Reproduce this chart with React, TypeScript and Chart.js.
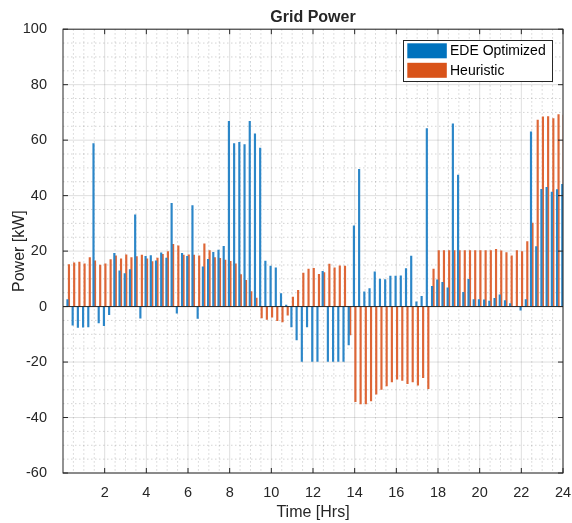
import React, { useEffect, useRef } from 'react';
import { Chart, registerables } from 'chart.js';

Chart.register(...registerables);

// Time of each 15-minute interval (hours)
const hours = [
  0.25, 0.5, 0.75, 1, 1.25, 1.5, 1.75, 2, 2.25, 2.5, 2.75, 3,
  3.25, 3.5, 3.75, 4, 4.25, 4.5, 4.75, 5, 5.25, 5.5, 5.75, 6,
  6.25, 6.5, 6.75, 7, 7.25, 7.5, 7.75, 8, 8.25, 8.5, 8.75, 9,
  9.25, 9.5, 9.75, 10, 10.25, 10.5, 10.75, 11, 11.25, 11.5, 11.75, 12,
  12.25, 12.5, 12.75, 13, 13.25, 13.5, 13.75, 14, 14.25, 14.5, 14.75, 15,
  15.25, 15.5, 15.75, 16, 16.25, 16.5, 16.75, 17, 17.25, 17.5, 17.75, 18,
  18.25, 18.5, 18.75, 19, 19.25, 19.5, 19.75, 20, 20.25, 20.5, 20.75, 21,
  21.25, 21.5, 21.75, 22, 22.25, 22.5, 22.75, 23, 23.25, 23.5, 23.75, 24,
];

// Grid power, EDE optimized schedule (kW)
const edeOptimized = [
  2.5, -6.7, -7.5, -7.4, -7.3, 58.8, -5.9, -6.9, -2.9, 19.2, 12.9, 11.9,
  13.3, 33.1, -4.2, 18.1, 18.4, 16.5, 19.4, 17.5, 37.2, -2.4, 19.2, 18.1,
  36.4, -4.3, 14.3, 17.0, 19.6, 20.4, 21.7, 66.8, 58.8, 59.2, 58.4, 66.8,
  62.3, 57.1, 16.4, 14.6, 14.0, 4.7, 0.5, -7.3, -12.0, -19.8, -7.3, -19.8,
  -19.8, 12.7, -19.8, -19.8, -19.8, -19.8, -13.8, 29.1, 49.5, 5.3, 6.5, 12.5,
  9.9, 9.7, 11.0, 11.0, 11.1, 13.7, 18.2, 1.7, 3.7, 64.2, 7.3, 9.6,
  8.7, 6.8, 65.9, 47.4, 5.1, 9.8, 2.5, 2.5, 2.4, 2.0, 3.0, 4.2,
  2.2, 1.1, 0, -1.3, 2.5, 63.0, 21.6, 42.3, 43.0, 41.3, 42.2, 44.1,
];

// Grid power, heuristic schedule (kW)
const heuristic = [
  15.1, 15.8, 16.0, 15.4, 17.7, 16.5, 15.0, 15.4, 16.9, 18.3, 17.2, 18.7,
  17.7, 18.0, 18.6, 17.2, 16.2, 17.5, 18.8, 19.8, 22.4, 21.9, 18.6, 18.7,
  18.6, 18.3, 22.6, 20.2, 17.7, 17.4, 16.8, 16.3, 15.4, 11.5, 9.5, 5.4,
  3.1, -4.1, -4.6, -3.8, -5.1, -5.5, -3.1, 3.4, 5.9, 12.1, 13.5, 13.8,
  11.6, 12.3, 15.3, 14.0, 14.7, 14.6, -10.2, -34.3, -35.1, -35.1, -34.0, -31.6,
  -29.9, -28.6, -27.2, -26.2, -26.6, -27.8, -27.2, -28.3, -25.6, -29.6, 13.5, 20.2,
  20.2, 20.2, 20.2, 20.2, 20.2, 20.2, 20.2, 20.2, 20.2, 20.2, 20.6, 20.1,
  19.5, 18.3, 20.2, 19.8, 23.4, 30.1, 67.2, 68.4, 68.5, 67.8, 69.2, 69.0,
];

const xTickValues = [2, 4, 6, 8, 10, 12, 14, 16, 18, 20, 22, 24];
const yTickValues = [-60, -40, -20, 0, 20, 40, 60, 80, 100];

const AXIS = '#262626';
const FONT = "'Liberation Sans', Arial, Helvetica, sans-serif";
const BLUE = '#2b86c8';
const ORANGE = '#de6636';
const BLUE_LEGEND = '#0072BD';
const ORANGE_LEGEND = '#D95319';

const matlabAxes = {
  id: 'matlabAxes',
  beforeDatasetsDraw(chart: any) {
    const { ctx, chartArea: a, scales } = chart;
    const x = scales.x;
    const y = scales.y;
    const vline = (px: number) => {
      ctx.beginPath();
      ctx.moveTo(px, a.top);
      ctx.lineTo(px, a.bottom);
      ctx.stroke();
    };
    const hline = (py: number) => {
      ctx.beginPath();
      ctx.moveTo(a.left, py);
      ctx.lineTo(a.right, py);
      ctx.stroke();
    };
    ctx.save();
    ctx.fillStyle = '#ffffff';
    ctx.fillRect(a.left, a.top, a.right - a.left, a.bottom - a.top);
    // minor grid (dotted)
    ctx.lineWidth = 1;
    ctx.strokeStyle = 'rgba(38,38,38,0.2)';
    ctx.setLineDash([1.5, 2.5]);
    for (let i = 1; i < 48; i++) {
      const v = i * 0.5;
      if (i % 4 !== 0) vline(x.getPixelForValue(v));
    }
    for (let i = -11; i < 20; i++) {
      const v = i * 5;
      if (i % 4 !== 0) hline(y.getPixelForValue(v));
    }
    // major grid
    ctx.setLineDash([]);
    ctx.strokeStyle = 'rgba(38,38,38,0.15)';
    xTickValues.forEach((v) => vline(x.getPixelForValue(v)));
    yTickValues.forEach((v) => hline(y.getPixelForValue(v)));
    ctx.restore();
  },
  afterDatasetsDraw(chart: any) {
    const { ctx, chartArea: a, scales } = chart;
    const x = scales.x;
    const y = scales.y;
    ctx.save();
    ctx.strokeStyle = AXIS;
    ctx.lineWidth = 1;
    // bar baseline
    const y0 = y.getPixelForValue(0);
    ctx.beginPath();
    ctx.moveTo(a.left, y0);
    ctx.lineTo(a.right, y0);
    ctx.stroke();
    // box
    ctx.strokeRect(a.left, a.top, a.right - a.left, a.bottom - a.top);
    // inward ticks
    const tl = 5;
    ctx.beginPath();
    xTickValues.forEach((v) => {
      const px = x.getPixelForValue(v);
      ctx.moveTo(px, a.bottom);
      ctx.lineTo(px, a.bottom - tl);
      ctx.moveTo(px, a.top);
      ctx.lineTo(px, a.top + tl);
    });
    yTickValues.forEach((v) => {
      const py = y.getPixelForValue(v);
      ctx.moveTo(a.left, py);
      ctx.lineTo(a.left + tl, py);
      ctx.moveTo(a.right, py);
      ctx.lineTo(a.right - tl, py);
    });
    ctx.stroke();
    ctx.restore();
  },
  afterDraw(chart: any) {
    const { ctx } = chart;
    const ds = chart.data.datasets;
    const legendColors = [BLUE_LEGEND, ORANGE_LEGEND];
    const bx = 403.5, by = 40.5, bw = 149, bh = 41;
    ctx.save();
    ctx.fillStyle = '#ffffff';
    ctx.fillRect(bx, by, bw, bh);
    ctx.strokeStyle = AXIS;
    ctx.lineWidth = 1;
    ctx.strokeRect(bx, by, bw, bh);
    ctx.font = `14px ${FONT}`;
    ctx.textBaseline = 'middle';
    ctx.textAlign = 'left';
    ds.forEach((d: any, i: number) => {
      const rowY = 43.3 + i * 19.5;
      ctx.fillStyle = legendColors[i];
      ctx.fillRect(407.3, rowY, 39.5, 15);
      ctx.fillStyle = '#000000';
      ctx.fillText(d.label, 450, rowY + 8);
    });
    ctx.restore();
  },
};

export default function App() {
  const canvasRef = useRef<HTMLCanvasElement | null>(null);

  useEffect(() => {
    if (!canvasRef.current) return;
    const chart = new Chart(canvasRef.current, {
      type: 'bar',
      data: {
        datasets: [
          {
            label: 'EDE Optimized',
            data: hours.map((h, i) => ({ x: h, y: edeOptimized[i] })),
            backgroundColor: BLUE,
            borderWidth: 0,
            barThickness: 1.5,
          },
          {
            label: 'Heuristic',
            data: hours.map((h, i) => ({ x: h, y: heuristic[i] })),
            backgroundColor: ORANGE,
            borderWidth: 0,
            barThickness: 1.5,
          },
        ],
      },
      options: {
        animation: false,
        responsive: false,
        devicePixelRatio: 1,
        layout: { padding: { left: 0, right: 9, top: 0, bottom: 0 } },
        plugins: {
          legend: { display: false },
          tooltip: { enabled: false },
          title: {
            display: true,
            text: 'Grid Power',
            fullSize: false,
            color: AXIS,
            font: { family: FONT, size: 16, weight: 'bold' },
            padding: { top: 8, bottom: 2 },
          },
        },
        scales: {
          x: {
            type: 'linear',
            min: 0,
            max: 24,
            offset: false,
            grid: { display: false, offset: false },
            border: { display: false },
            ticks: {
              color: AXIS,
              font: { family: FONT, size: 14.5 },
              padding: 3,
              maxRotation: 0,
              autoSkip: false,
            },
            afterBuildTicks: (s: any) => {
              s.ticks = xTickValues.map((v) => ({ value: v }));
            },
            afterFit: (s: any) => {
              s.height = 50;
              s.paddingLeft = 0;
              s.paddingRight = 0;
            },
            title: {
              display: true,
              text: 'Time [Hrs]',
              color: AXIS,
              font: { family: FONT, size: 16 },
              padding: { top: 0, bottom: 1 },
            },
          },
          y: {
            type: 'linear',
            min: -60,
            max: 100,
            grid: { display: false },
            border: { display: false },
            ticks: {
              stepSize: 20,
              color: AXIS,
              font: { family: FONT, size: 14.5 },
              padding: 8,
            },
            afterBuildTicks: (s: any) => {
              s.ticks = yTickValues.map((v) => ({ value: v }));
            },
            afterFit: (s: any) => {
              s.width = 63;
              s.paddingTop = 0;
              s.paddingBottom = 0;
            },
            title: {
              display: true,
              text: 'Power [kW]',
              color: AXIS,
              font: { family: FONT, size: 16 },
              padding: { top: 10, bottom: 0 },
            },
          },
        },
      },
      plugins: [matlabAxes],
    } as any);
    return () => chart.destroy();
  }, []);

  return (
    <div style={{ position: 'absolute', left: 0, top: 0, width: 572, height: 523, background: '#ffffff' }}>
      <canvas ref={canvasRef} width={572} height={523} style={{ display: 'block' }} />
    </div>
  );
}
